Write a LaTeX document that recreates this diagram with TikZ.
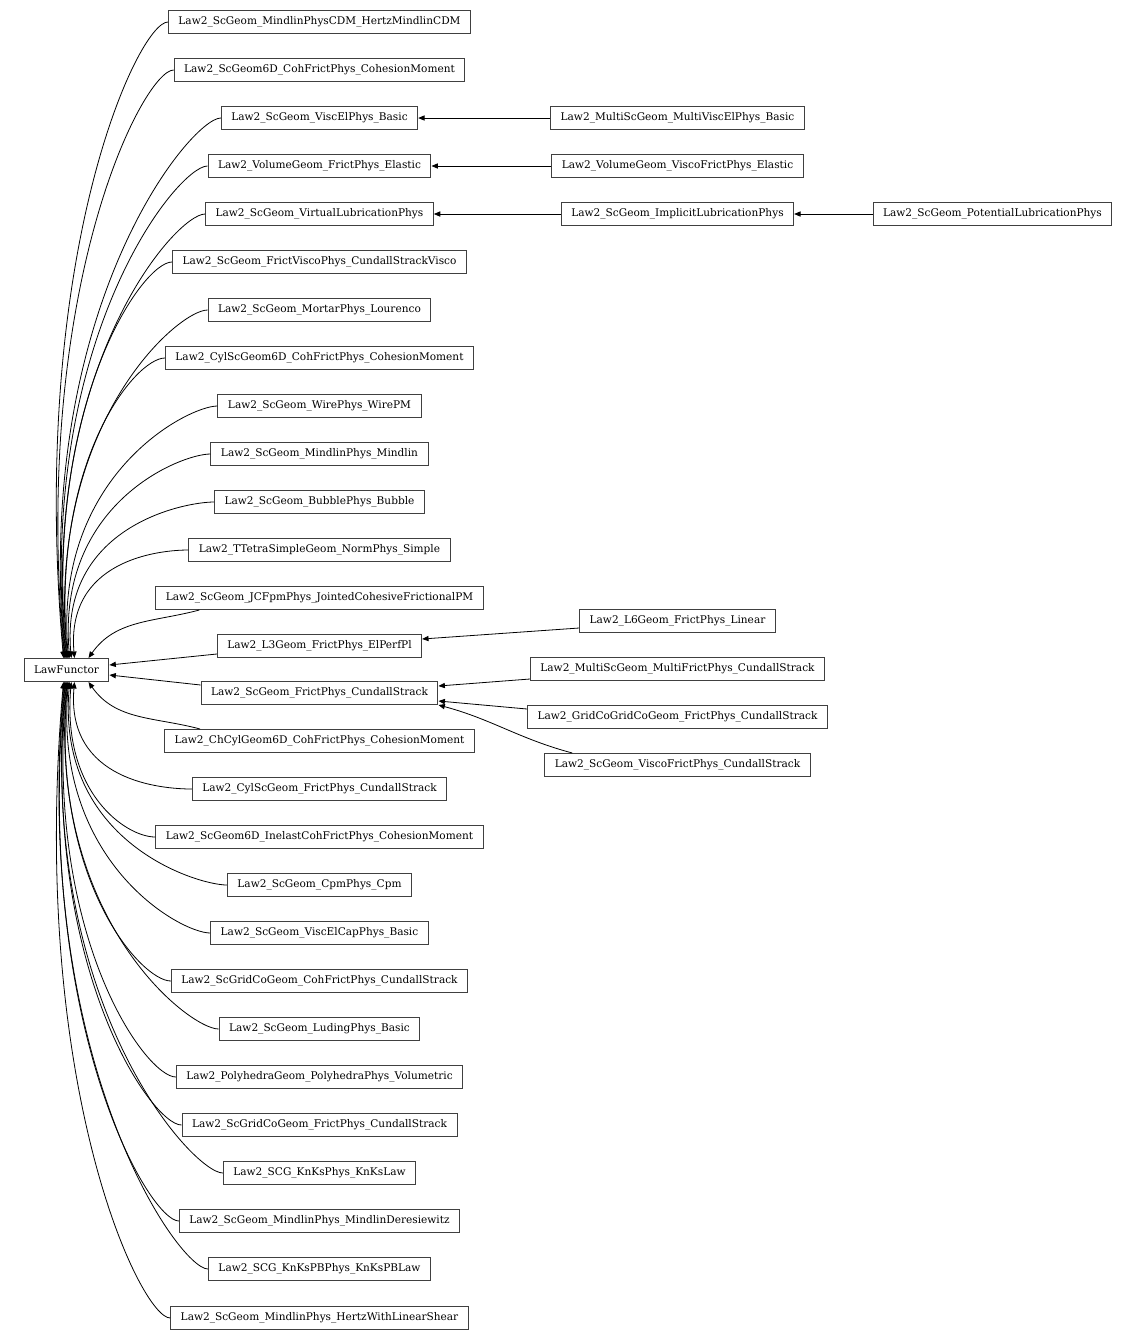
\documentclass[tikz,border=0pt]{standalone}
\usepackage{fontspec}
\setmainfont{DejaVu Serif}
\usepackage{tikz}
\usetikzlibrary{arrows.meta}
\definecolor{edgegray}{HTML}{404040}

\begin{document}
\begin{tikzpicture}[
  x=0.5pt,y=-0.5pt,
  cls/.style={draw=edgegray,line width=0.5pt,minimum height=11.5pt,inner xsep=5pt,inner ysep=0pt,font=\fontsize{5.28}{6}\selectfont},
  arrow/.style={-{Triangle[length=3.2pt,width=2.6pt]},line width=0.4pt},
  toup/.style={arrow,out=180,in=95,out distance=15pt,looseness=1.6},
  todown/.style={arrow,out=180,in=-95,out distance=15pt,looseness=1.6}
]
  \useasboundingbox (0,0) rectangle (1135,1340);

  \node[cls] (lf) at (66.5,670) {LawFunctor};

  % derived classes of LawFunctor
  \node[cls] (mcdm)    at (319.5,22)   {Law2\_ScGeom\_MindlinPhysCDM\_HertzMindlinCDM};
  \node[cls] (coh6d)   at (319.5,70)   {Law2\_ScGeom6D\_CohFrictPhys\_CohesionMoment};
  \node[cls] (viscel)  at (319.5,118)  {Law2\_ScGeom\_ViscElPhys\_Basic};
  \node[cls] (volfr)   at (319.5,166)  {Law2\_VolumeGeom\_FrictPhys\_Elastic};
  \node[cls] (virtlub) at (319.5,214)  {Law2\_ScGeom\_VirtualLubricationPhys};
  \node[cls] (fvisco)  at (319.5,262)  {Law2\_ScGeom\_FrictViscoPhys\_CundallStrackVisco};
  \node[cls] (mortar)  at (319.5,310)  {Law2\_ScGeom\_MortarPhys\_Lourenco};
  \node[cls] (cylcoh)  at (319.5,358)  {Law2\_CylScGeom6D\_CohFrictPhys\_CohesionMoment};
  \node[cls] (wire)    at (319.5,406)  {Law2\_ScGeom\_WirePhys\_WirePM};
  \node[cls] (mindlin) at (319.5,454)  {Law2\_ScGeom\_MindlinPhys\_Mindlin};
  \node[cls] (bubble)  at (319.5,502)  {Law2\_ScGeom\_BubblePhys\_Bubble};
  \node[cls] (tetra)   at (319.5,550)  {Law2\_TTetraSimpleGeom\_NormPhys\_Simple};
  \node[cls] (jcfpm)   at (319.5,598)  {Law2\_ScGeom\_JCFpmPhys\_JointedCohesiveFrictionalPM};
  \node[cls] (l3geom)  at (319.5,646)  {Law2\_L3Geom\_FrictPhys\_ElPerfPl};
  \node[cls] (fcs)     at (319.5,693)  {Law2\_ScGeom\_FrictPhys\_CundallStrack};
  \node[cls] (chcyl)   at (319.5,741)  {Law2\_ChCylGeom6D\_CohFrictPhys\_CohesionMoment};
  \node[cls] (cylfcs)  at (319.5,789)  {Law2\_CylScGeom\_FrictPhys\_CundallStrack};
  \node[cls] (inelast) at (319.5,837)  {Law2\_ScGeom6D\_InelastCohFrictPhys\_CohesionMoment};
  \node[cls] (cpm)     at (319.5,885)  {Law2\_ScGeom\_CpmPhys\_Cpm};
  \node[cls] (visccap) at (319.5,933)  {Law2\_ScGeom\_ViscElCapPhys\_Basic};
  \node[cls] (gridcoh) at (319.5,981)  {Law2\_ScGridCoGeom\_CohFrictPhys\_CundallStrack};
  \node[cls] (luding)  at (319.5,1029) {Law2\_ScGeom\_LudingPhys\_Basic};
  \node[cls] (poly)    at (319.5,1077) {Law2\_PolyhedraGeom\_PolyhedraPhys\_Volumetric};
  \node[cls] (gridfcs) at (319.5,1125) {Law2\_ScGridCoGeom\_FrictPhys\_CundallStrack};
  \node[cls] (knks)    at (319.5,1173) {Law2\_SCG\_KnKsPhys\_KnKsLaw};
  \node[cls] (deres)   at (319.5,1221) {Law2\_ScGeom\_MindlinPhys\_MindlinDeresiewitz};
  \node[cls] (knkspb)  at (319.5,1269) {Law2\_SCG\_KnKsPBPhys\_KnKsPBLaw};
  \node[cls] (hertz)   at (319.5,1318) {Law2\_ScGeom\_MindlinPhys\_HertzWithLinearShear};

  % second and third level
  \node[cls] (mviscel)  at (677.5,118) {Law2\_MultiScGeom\_MultiViscElPhys\_Basic};
  \node[cls] (volvisco) at (677.5,166) {Law2\_VolumeGeom\_ViscoFrictPhys\_Elastic};
  \node[cls] (impllub)  at (677.5,214) {Law2\_ScGeom\_ImplicitLubricationPhys};
  \node[cls] (potlub)   at (992.5,214) {Law2\_ScGeom\_PotentialLubricationPhys};
  \node[cls] (l6geom)   at (677.5,621) {Law2\_L6Geom\_FrictPhys\_Linear};
  \node[cls] (multifcs) at (677.5,669) {Law2\_MultiScGeom\_MultiFrictPhys\_CundallStrack};
  \node[cls] (gridgrid) at (677.5,717) {Law2\_GridCoGridCoGeom\_FrictPhys\_CundallStrack};
  \node[cls] (viscofcs) at (677.5,765) {Law2\_ScGeom\_ViscoFrictPhys\_CundallStrack};

  % edges to LawFunctor
  \draw[toup] (mcdm.west)    to ([xshift=-1.5pt]lf.north);
  \draw[toup] (coh6d.west)   to ([xshift=-1.2pt]lf.north);
  \draw[toup] (viscel.west)  to ([xshift=-0.9pt]lf.north);
  \draw[toup] (volfr.west)   to ([xshift=-0.6pt]lf.north);
  \draw[toup] (virtlub.west) to ([xshift=-0.3pt]lf.north);
  \draw[toup] (fvisco.west)  to (lf.north);
  \draw[toup] (mortar.west)  to ([xshift=0.3pt]lf.north);
  \draw[toup] (cylcoh.west)  to ([xshift=0.6pt]lf.north);
  \draw[toup] (wire.west)    to ([xshift=1pt]lf.north);
  \draw[toup] (mindlin.west) to ([xshift=1.6pt]lf.north);
  \draw[toup] (bubble.west)  to ([xshift=2.4pt]lf.north);
  \draw[toup] (tetra.west)   to ([xshift=4pt]lf.north);
  \draw[arrow] ([xshift=22pt]jcfpm.south west) to[out=195,in=55] ([xshift=11pt]lf.north);
  \draw[arrow] ([yshift=-4pt]l3geom.west) -- ([yshift=2.5pt]lf.east);
  \draw[arrow] ([yshift=4pt]fcs.west) -- ([yshift=-2.5pt]lf.east);
  \draw[arrow] ([xshift=18pt]chcyl.north west) to[out=165,in=-55] ([xshift=11pt]lf.south);
  \draw[todown] (cylfcs.west)  to ([xshift=4pt]lf.south);
  \draw[todown] (inelast.west) to ([xshift=2.4pt]lf.south);
  \draw[todown] (cpm.west)     to ([xshift=1.6pt]lf.south);
  \draw[todown] (visccap.west) to ([xshift=1pt]lf.south);
  \draw[todown] (gridcoh.west) to ([xshift=0.6pt]lf.south);
  \draw[todown] (luding.west)  to ([xshift=0.3pt]lf.south);
  \draw[todown] (poly.west)    to (lf.south);
  \draw[todown] (gridfcs.west) to ([xshift=-0.3pt]lf.south);
  \draw[todown] (knks.west)    to ([xshift=-0.6pt]lf.south);
  \draw[todown] (deres.west)   to ([xshift=-0.9pt]lf.south);
  \draw[todown] (knkspb.west)  to ([xshift=-1.2pt]lf.south);
  \draw[todown] (hertz.west)   to ([xshift=-1.5pt]lf.south);

  % further inheritance
  \draw[arrow] (mviscel.west) -- (viscel.east);
  \draw[arrow] (volvisco.west) -- (volfr.east);
  \draw[arrow] (impllub.west) -- (virtlub.east);
  \draw[arrow] (potlub.west) -- (impllub.east);
  \draw[arrow] ([yshift=-3.5pt]l6geom.west) -- ([yshift=3.5pt]l3geom.east);
  \draw[arrow] ([yshift=-5pt]multifcs.west) -- ([yshift=3.5pt]fcs.east);
  \draw[arrow] ([yshift=4pt]gridgrid.west) -- ([yshift=-4pt]fcs.east);
  \draw[arrow] ([xshift=14pt]viscofcs.north west) to[out=165,in=-15] ([yshift=-6pt]fcs.east);
\end{tikzpicture}
\end{document}
